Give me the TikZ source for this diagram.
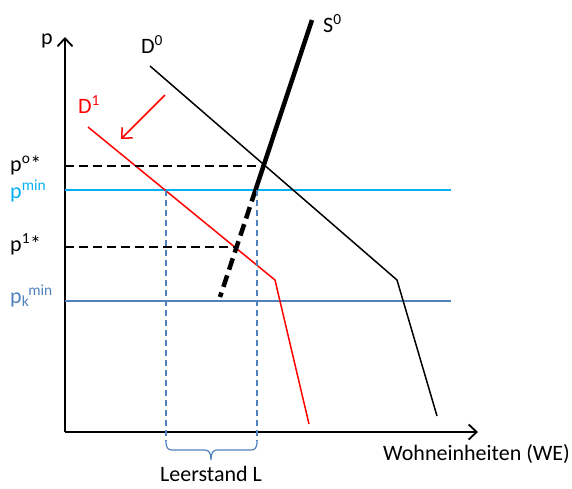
\documentclass[tikz,border=0pt]{standalone}
\usepackage{fontspec}
\setmainfont{Carlito}
\usetikzlibrary{arrows.meta}
\definecolor{lichtblau}{HTML}{00B0F0}
\definecolor{stahlblau}{HTML}{4F81BD}

\begin{document}
\begin{tikzpicture}[x=1pt, y=-1pt, >={Straight Barb[length=8pt, width=15pt]},
    every node/.style={font=\fontsize{22}{26}\selectfont, inner sep=0pt, anchor=base west},
    kurve/.style={line width=1.5pt},
    hilfslinie/.style={line width=1.5pt, dash pattern=on 9pt off 5pt},
    leerlinie/.style={stahlblau, line width=1.2pt, dash pattern=on 6pt off 4pt}]
    \useasboundingbox (0,0) rectangle (572,488);
    \coordinate (O) at (65,432);
    \coordinate (ytop) at (65,37);
    \coordinate (xend) at (478,432);
    \draw[line width=1.8pt, ->] (O) -- (ytop);
    \draw[line width=1.8pt, ->] (O) -- (xend);
    \node (p) at (41,44) {p};
    \node (we) at (383,460) {Wohneinheiten (WE)};
    \node[anchor=base] (leer) at (211,481) {Leerstand L};
    % Preisniveaus
    \node (po) at (10,171) {p\textsuperscript{o}*};
    \node[text=lichtblau] (pmin) at (10,198) {p\textsuperscript{min}};
    \node (p1) at (10,251) {p\textsuperscript{1}*};
    \node[text=stahlblau] (pkmin) at (10,303) {p\textsubscript{k}\kern-1pt\textsuperscript{min}};
    \draw[lichtblau, kurve] (65,190) -- (451,190);
    \draw[stahlblau, kurve] (65,301) -- (451,301);
    % Nachfrage
    \coordinate (d0a) at (150,66);
    \coordinate (d0k) at (397,280);
    \coordinate (d0e) at (437,416);
    \draw[kurve] (d0a) -- (d0k) -- (d0e);
    \node (D0) at (141,53) {D\textsuperscript{0}};
    \coordinate (d1a) at (88,127);
    \coordinate (d1k) at (275,280);
    \coordinate (d1e) at (309,424);
    \draw[red, kurve] (d1a) -- (d1k) -- (d1e);
    \node[text=red] (D1) at (78,113) {D\textsuperscript{1}};
    \draw[red, kurve, ->] (165,95) -- (121,139);
    % Angebot
    \coordinate (s0a) at (312,20);
    \coordinate (s0m) at (255.5,190);
    \coordinate (s0e) at (220,297);
    \draw[line width=4.5pt] (s0a) -- (s0m);
    \draw[line width=4.5pt, dash pattern=on 12pt off 6pt] (s0m) -- (s0e);
    \node (S0) at (323,32) {S\textsuperscript{0}};
    % Gleichgewichte
    \draw[hilfslinie] (65,166) -- (263.5,166);
    \draw[hilfslinie] (65,247) -- (236.5,247);
    % Leerstand
    \foreach \x in {166,257} {
        \draw[leerlinie] (\x,190) -- (\x,441);
    }
    \draw[stahlblau, line width=1.2pt] (166,441) .. controls (166,448) and (168,450) .. (172,450)
        -- (205,450) .. controls (209,450) and (211,453) .. (211,460)
        .. controls (211,453) and (213,450) .. (217,450) -- (251,450)
        .. controls (255,450) and (257,448) .. (257,441);
\end{tikzpicture}
\end{document}
